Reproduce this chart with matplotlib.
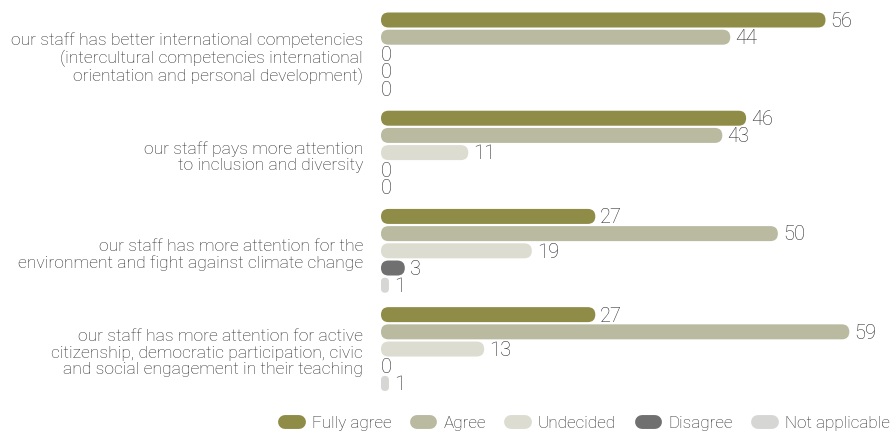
import numpy as np
import matplotlib
matplotlib.use('Agg')
import matplotlib.pyplot as plt
from matplotlib.patches import FancyBboxPatch
from matplotlib.lines import Line2D

# ---------------------------------------------------------------------
# Data
# ---------------------------------------------------------------------
statements = [
    "our staff has better international competencies\n(intercultural competencies international\norientation and personal development)",
    "our staff pays more attention\nto inclusion and diversity",
    "our staff has more attention for the\nenvironment and fight against climate change",
    "our staff has more attention for active\ncitizenship, democratic participation, civic\nand social engagement in their teaching",
]
answers = ["Fully agree", "Agree", "Undecided", "Disagree", "Not applicable"]
fully_agree = [56, 46, 27, 27]
agree = [44, 43, 50, 59]
undecided = [0, 11, 19, 13]
disagree = [0, 0, 3, 0]
not_applicable = [0, 0, 1, 1]

colors = ['#8e8c46', '#b9baa0', '#dcddd0', '#707070', '#d6d6d4']
text_color = '#2a2a2a'
font = 'Roboto'
weight = 'light'

series = [fully_agree, agree, undecided, disagree, not_applicable]

# ---------------------------------------------------------------------
# Layout (pixel based so the rounded bar ends stay circular)
# ---------------------------------------------------------------------
W, H, DPI = 896, 433, 100
fig = plt.figure(figsize=(W / DPI, H / DPI), dpi=DPI)

ax_left, ax_right = 381, 889
ax_top, ax_bottom = 5, 400
ax = fig.add_axes([ax_left / W, 1 - ax_bottom / H,
                   (ax_right - ax_left) / W, (ax_bottom - ax_top) / H])

xmax = 64.0
row_px = 17.2
group_step = 5.71           # in rows
first_offset = 15 / row_px
ylim_bottom = (ax_bottom - ax_top) / row_px - first_offset
ax.set_xlim(0, xmax)
ax.set_ylim(ylim_bottom, -first_offset)
ax.axis('off')

px_x = (ax_right - ax_left) / xmax
px_y = row_px
bar_h = 15 / row_px
r_px = 15 / 2

for g in range(len(statements)):
    for i, vals in enumerate(series):
        v = vals[g]
        yc = g * group_step + i
        if v > 0:
            w_px = v * px_x
            rs = min(r_px, w_px / 2) / px_x
            patch = FancyBboxPatch((0, yc - bar_h / 2), v, bar_h,
                                   boxstyle=f"round,pad=0,rounding_size={rs}",
                                   mutation_aspect=px_x / px_y,
                                   facecolor=colors[i], edgecolor='none')
            ax.add_patch(patch)
        xoff = 5 / px_x if v > 0 else 0
        ax.text(v + xoff, yc + 0.08, str(v), ha='left', va='center',
                fontsize=14.5, color=text_color, family=font, fontweight=weight)

    gc = g * group_step + 2 + 0.25
    ax.text(-18 / px_x, gc, statements[g], ha='right', va='center',
            fontsize=12.6, color=text_color, family=font, fontweight=weight,
            linespacing=1.12)

# ---------------------------------------------------------------------
# Legend
# ---------------------------------------------------------------------
handles = [Line2D([0], [0], color=c, lw=10, solid_capstyle='round')
           for c in colors]
leg = fig.legend(handles, answers, loc='lower right',
                 bbox_to_anchor=(1.01, -0.03), ncol=5, frameon=False,
                 handlelength=0.8, handletextpad=0.75, columnspacing=1.5,
                 prop={'family': font, 'size': 12.3, 'weight': weight})
for t in leg.get_texts():
    t.set_color(text_color)

fig.savefig('out.png', dpi=DPI)
